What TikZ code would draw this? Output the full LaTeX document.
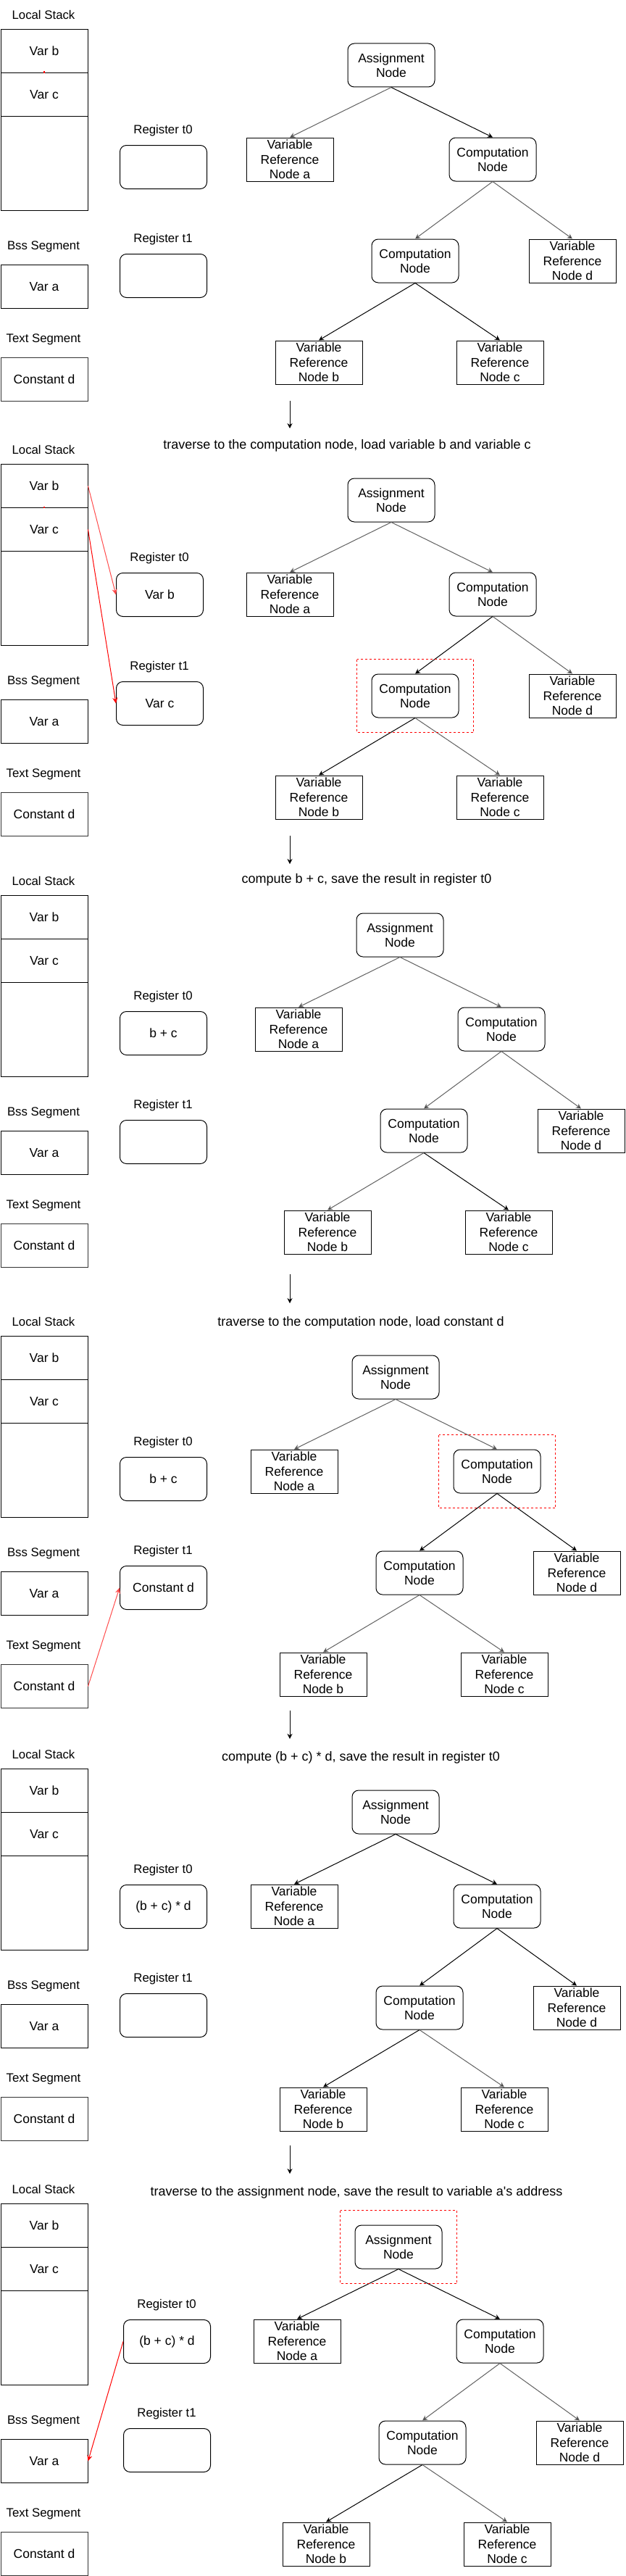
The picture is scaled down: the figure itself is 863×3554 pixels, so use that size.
\documentclass[tikz,border=0pt]{standalone}
\usepackage{fontspec}
\setmainfont{Liberation Sans}
\usetikzlibrary{arrows.meta}
\tikzset{
  nodetxt/.style={font=\fontsize{17.5}{20.5}\selectfont},
  memcell/.style={draw, line width=1pt, minimum width=120pt, minimum height=60pt, inner sep=0pt, anchor=north west, nodetxt},
  regbox/.style={draw, rounded corners=9pt, line width=1pt, minimum width=120pt, minimum height=60pt, inner sep=0pt, anchor=north west, nodetxt},
  lbl/.style={font=\fontsize{16.8}{19}\selectfont, inner sep=0pt},
  steptxt/.style={font=\fontsize{18}{21}\selectfont, inner sep=0pt},
  astnode/.style={draw, rounded corners=9pt, line width=1pt, minimum width=120pt, minimum height=60pt, inner sep=0pt, align=center, nodetxt},
  refnode/.style={draw, line width=1pt, minimum width=120pt, minimum height=60pt, inner sep=0pt, align=center, nodetxt},
  blkedge/.style={draw=black, line width=1pt, -{Stealth[length=7pt,width=7pt]}},
  gryedge/.style={draw=black!62, line width=1pt, -{Stealth[length=7pt,width=7pt,fill=black]}},
  redarrow/.style={draw=red, line width=1pt, -{Stealth[length=8pt,width=7pt]}},
  reddash/.style={draw=red, line width=1pt, dash pattern=on 3pt off 3pt},
}
\newcommand\memside[6]{%
  \node[lbl] (#1lsl) at (60,{#2-20}) {Local Stack};
  \node[memcell] (#1vb) at (0.5,#2) {Var b};
  \node[memcell] (#1vc) at (0.5,{#2+60}) {Var c};
  \node[memcell, minimum height=130pt] (#1ve) at (0.5,{#2+120}) {};
  \node[lbl] (#1bssl) at (60,{#2+300}) {Bss Segment};
  \node[memcell] (#1va) at (0.5,{#2+325}) {Var a};
  \node[lbl] (#1txl) at (60,{#2+428}) {Text Segment};
  \node[memcell, draw=black!80] (#1cd) at (0.5,{#2+453}) {Constant d};
  \node[lbl] (#1r0l) at ({#3+60},{#4-20}) {Register t0};
  \node[regbox] (#1r0) at (#3,#4) {#5};
  \node[lbl] (#1r1l) at ({#3+60},{#4+130}) {Register t1};
  \node[regbox] (#1r1) at (#3,{#4+150}) {#6};
}
\newcommand\tree[9]{%
  \node[astnode] (#1A) at ({540+#2},{90+#3}) {Assignment\\Node};
  \node[refnode] (#1a) at ({400+#2},{220+#3}) {Variable\\Reference\\Node a};
  \node[astnode] (#1C) at ({680+#2},{220+#3}) {Computation\\Node};
  \node[astnode] (#1D) at ({573+#2},{360+#3}) {Computation\\Node};
  \node[refnode] (#1d) at ({790+#2},{360+#3}) {Variable\\Reference\\Node d};
  \node[refnode] (#1b) at ({440+#2},{500+#3}) {Variable\\Reference\\Node b};
  \node[refnode] (#1c) at ({690+#2},{500+#3}) {Variable\\Reference\\Node c};
  \draw[#4] (#1A.south) -- (#1a.north);
  \draw[#5] (#1A.south) -- (#1C.north);
  \draw[#6] (#1C.south) -- (#1D.north);
  \draw[#7] (#1C.south) -- (#1d.north);
  \draw[#8] (#1D.south) -- (#1b.north);
  \draw[#9] (#1D.south) -- (#1c.north);
}
\begin{document}
\begin{tikzpicture}[x=1pt, y=-1pt]
\useasboundingbox (0,0) rectangle (863,3554);
\fill[white] (0,0) rectangle (863,3554);

% Panel 1
\memside{p1}{40}{165}{200}{}{}
\tree{p1}{0}{0}{gryedge}{blkedge}{gryedge}{gryedge}{blkedge}{blkedge}
\fill[red] (59.5,98.5) rectangle (61.5,101);
\coordinate (ar1s) at (400,553);
\coordinate (ar1e) at (400,591);
\draw[blkedge] (ar1s) -- (ar1e);

% Panel 2
\node[steptxt] (s2) at (479,615) {traverse to the computation node, load variable b and variable c};
\memside{p2}{640}{160}{790}{Var b}{Var c}
\tree{p2}{0}{600}{gryedge}{gryedge}{blkedge}{gryedge}{blkedge}{gryedge}
\fill[red] (59.5,698.5) rectangle (61.5,701);
\draw[redarrow, draw=red!70] (p2vb.east) -- (p2r0.west);
\draw[redarrow] (p2vc.east) -- (p2r1.west);
\draw[reddash] ([xshift=-20pt,yshift=20pt]p2D.north west) rectangle ([xshift=20pt,yshift=-20pt]p2D.south east);
\coordinate (ar2s) at (400,1153);
\coordinate (ar2e) at (400,1192);
\draw[blkedge] (ar2s) -- (ar2e);

% Panel 3
\node[steptxt] (s3) at (506,1214) {compute b + c, save the result in register t0};
\memside{p3}{1235}{165}{1395}{b + c}{}
\tree{p3}{12}{1200}{gryedge}{gryedge}{gryedge}{gryedge}{gryedge}{blkedge}
\coordinate (ar3s) at (400,1758);
\coordinate (ar3e) at (400,1798);
\draw[blkedge] (ar3s) -- (ar3e);

% Panel 4
\node[steptxt] (s4) at (498,1825) {traverse to the computation node, load constant d};
\memside{p4}{1843}{165}{2010}{b + c}{Constant d}
\tree{p4}{6}{1810}{gryedge}{gryedge}{blkedge}{blkedge}{gryedge}{gryedge}
\draw[redarrow, draw=red!70] (p4cd.east) -- (p4r1.west);
\draw[reddash] ([xshift=-20pt,yshift=20pt]p4C.north west) rectangle ([xshift=20pt,yshift=-20pt]p4C.south east);
\coordinate (ar4s) at (400,2360);
\coordinate (ar4e) at (400,2399);
\draw[blkedge] (ar4s) -- (ar4e);

% Panel 5
\node[steptxt] (s5) at (498,2425) {compute (b + c) * d, save the result in register t0};
\memside{p5}{2440}{165}{2600}{(b + c) * d}{}
\tree{p5}{6}{2410}{blkedge}{blkedge}{blkedge}{blkedge}{blkedge}{gryedge}
\coordinate (ar5s) at (400,2960);
\coordinate (ar5e) at (400,2999);
\draw[blkedge] (ar5s) -- (ar5e);

% Panel 6
\node[steptxt] (s6) at (492,3025) {traverse to the assignment node, save the result to variable a\textquotesingle s address};
\memside{p6}{3040}{170}{3200}{(b + c) * d}{}
\tree{p6}{10}{3010}{blkedge}{blkedge}{gryedge}{gryedge}{blkedge}{gryedge}
\draw[redarrow] (p6r0.west) -- (p6va.east);
\draw[reddash] ([xshift=-20pt,yshift=20pt]p6A.north west) rectangle ([xshift=20pt,yshift=-20pt]p6A.south east);
\end{tikzpicture}
\end{document}
